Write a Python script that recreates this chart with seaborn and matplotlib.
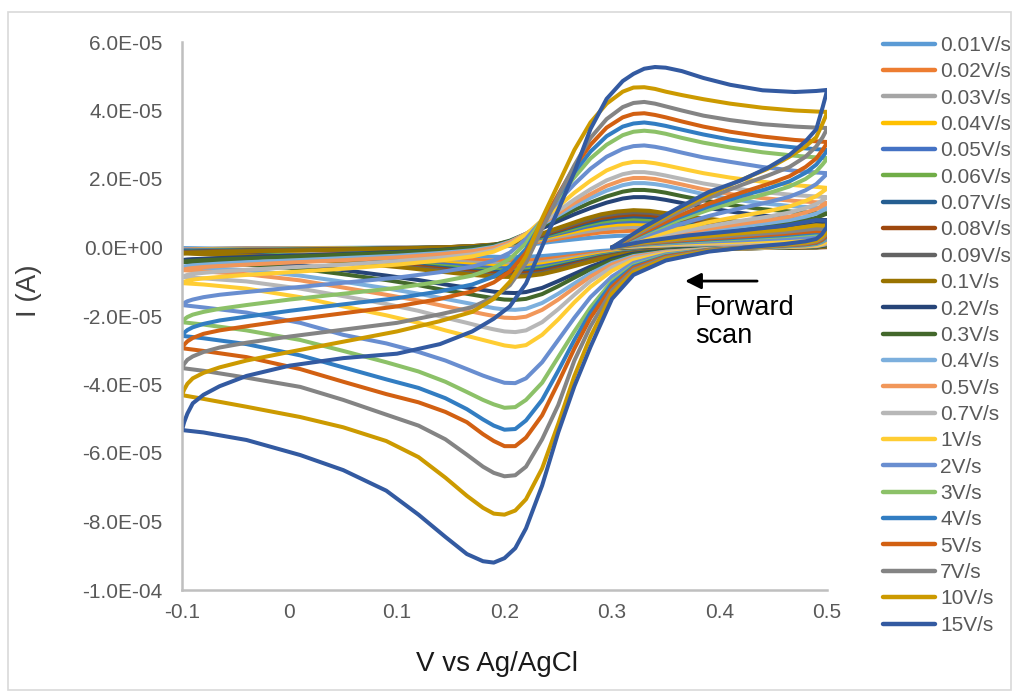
import matplotlib
matplotlib.use("Agg")
import matplotlib.pyplot as plt
import seaborn as sns
import pandas as pd
from matplotlib.ticker import FuncFormatter, MultipleLocator
from matplotlib.patches import Rectangle

# ---------------- data (currents in units of 1e-5 A) ----------------
RATES = ["0.01V/s", "0.02V/s", "0.03V/s", "0.04V/s", "0.05V/s", "0.06V/s",
         "0.07V/s", "0.08V/s", "0.09V/s", "0.1V/s", "0.2V/s", "0.3V/s",
         "0.4V/s", "0.5V/s", "0.7V/s", "1V/s", "2V/s", "3V/s", "4V/s",
         "5V/s", "7V/s", "10V/s", "15V/s"]
COLORS = ["#5B9BD5", "#ED7D31", "#A5A5A5", "#FFC000", "#4472C4", "#70AD47",
          "#255E91", "#9E480E", "#636363", "#997300", "#264478", "#43682B",
          "#7CAFDD", "#F1975A", "#B7B7B7", "#FFCD33", "#698ED0", "#8CC168",
          "#327DC2", "#D26012", "#848484", "#CC9A00", "#335AA1"]

# Potential samples along the scan: start 0.3 -> 0.5 -> -0.1 -> 0.5 -> 0.3
# coarse sampling (slow scans, small currents)
V_INIT_C = [0.30, 0.36, 0.42, 0.47, 0.50]
V_CATH_C = [0.50, 0.49, 0.47, 0.43, 0.38, 0.34, 0.31, 0.29, 0.27, 0.25, 0.235,
            0.22, 0.205, 0.19, 0.17, 0.145, 0.11, 0.07, 0.02, -0.04, -0.10]
V_ANOD_C = [-0.10, -0.09, -0.07, -0.04, 0.0, 0.05, 0.10, 0.14, 0.17, 0.195,
            0.215, 0.23, 0.245, 0.26, 0.275, 0.29, 0.305, 0.32, 0.335, 0.355,
            0.38, 0.41, 0.45, 0.50]
V_END_C = [0.50, 0.495, 0.485, 0.46, 0.42, 0.37, 0.33, 0.30]
# fine sampling (faster scans, large currents)
V_INIT_F = [0.30, 0.33, 0.37, 0.42, 0.46, 0.49, 0.50]
V_CATH_F = [0.50, 0.495, 0.49, 0.48, 0.46, 0.43, 0.39, 0.35, 0.32, 0.30, 0.28,
            0.265, 0.25, 0.235, 0.22, 0.21, 0.20, 0.19, 0.18, 0.165, 0.145,
            0.12, 0.09, 0.05, 0.01, -0.04, -0.08, -0.10]
V_ANOD_F = [-0.10, -0.098, -0.095, -0.09, -0.08, -0.065, -0.04, 0.0, 0.05,
            0.10, 0.14, 0.17, 0.19, 0.205, 0.22, 0.235, 0.25, 0.265, 0.28,
            0.295, 0.31, 0.32, 0.33, 0.34, 0.35, 0.365, 0.385, 0.41, 0.44,
            0.47, 0.49, 0.50]
V_END_F = [0.50, 0.499, 0.496, 0.49, 0.48, 0.465, 0.445, 0.42, 0.39, 0.36,
           0.33, 0.30]

i_0p01 = [0, 0.01, 0.02, 0.02, 0.03,
          0.01, 0.0, 0.0, -0.01, -0.01, -0.03, -0.06, -0.1, -0.16, -0.21, -0.25, -0.27, -0.28, -0.27, -0.25, -0.23, -0.19, -0.15, -0.11, -0.06, -0.03,
          -0.03, -0.03, -0.03, -0.02, -0.02, -0.01, 0.0, 0.0, 0.01, 0.03, 0.06, 0.11, 0.17, 0.22, 0.27, 0.31, 0.34, 0.35, 0.34, 0.31, 0.28, 0.25, 0.23, 0.22,
          0.22, 0.2, 0.18, 0.15, 0.12, 0.08, 0.04, 0.0]
i_0p02 = [0, 0.01, 0.02, 0.03, 0.04,
          0.01, 0.0, 0.0, -0.01, -0.02, -0.04, -0.09, -0.15, -0.22, -0.3, -0.35, -0.38, -0.39, -0.38, -0.36, -0.32, -0.27, -0.21, -0.15, -0.09, -0.05,
          -0.05, -0.05, -0.04, -0.03, -0.03, -0.02, -0.01, 0.0, 0.02, 0.05, 0.09, 0.16, 0.23, 0.31, 0.38, 0.44, 0.47, 0.49, 0.48, 0.44, 0.39, 0.35, 0.32, 0.3,
          0.3, 0.28, 0.26, 0.21, 0.16, 0.11, 0.05, 0.0]
i_0p03 = [0, 0.02, 0.03, 0.04, 0.04,
          0.02, 0.01, 0.0, -0.01, -0.02, -0.05, -0.11, -0.18, -0.27, -0.36, -0.43, -0.47, -0.48, -0.47, -0.44, -0.39, -0.33, -0.26, -0.19, -0.12, -0.06,
          -0.06, -0.06, -0.05, -0.04, -0.03, -0.02, -0.01, 0.0, 0.02, 0.06, 0.11, 0.19, 0.29, 0.37, 0.46, 0.53, 0.58, 0.6, 0.59, 0.54, 0.48, 0.42, 0.39, 0.36,
          0.36, 0.34, 0.31, 0.26, 0.2, 0.13, 0.07, 0.0]
i_0p04 = [0, 0.02, 0.03, 0.04, 0.05,
          0.02, 0.01, 0.0, -0.01, -0.03, -0.06, -0.12, -0.2, -0.31, -0.42, -0.49, -0.54, -0.55, -0.54, -0.5, -0.45, -0.38, -0.3, -0.22, -0.14, -0.08,
          -0.08, -0.07, -0.06, -0.05, -0.04, -0.03, -0.02, 0.0, 0.03, 0.06, 0.13, 0.22, 0.33, 0.43, 0.53, 0.62, 0.67, 0.69, 0.68, 0.62, 0.55, 0.49, 0.44, 0.41,
          0.41, 0.39, 0.36, 0.3, 0.23, 0.15, 0.08, 0.0]
i_0p05 = [0, 0.02, 0.03, 0.04, 0.05,
          0.02, 0.01, 0.0, -0.01, -0.03, -0.07, -0.14, -0.23, -0.35, -0.47, -0.55, -0.6, -0.61, -0.6, -0.56, -0.5, -0.42, -0.33, -0.25, -0.16, -0.09,
          -0.09, -0.08, -0.07, -0.06, -0.05, -0.04, -0.02, 0.0, 0.03, 0.07, 0.14, 0.25, 0.37, 0.48, 0.6, 0.69, 0.75, 0.77, 0.76, 0.7, 0.62, 0.55, 0.5, 0.46,
          0.46, 0.44, 0.4, 0.33, 0.26, 0.17, 0.08, 0.0]
i_0p06 = [0, 0.02, 0.04, 0.05, 0.06,
          0.02, 0.01, 0.0, -0.02, -0.03, -0.08, -0.16, -0.25, -0.38, -0.51, -0.6, -0.65, -0.67, -0.66, -0.62, -0.55, -0.46, -0.37, -0.27, -0.18, -0.11,
          -0.11, -0.1, -0.09, -0.08, -0.06, -0.04, -0.02, 0.0, 0.03, 0.08, 0.15, 0.27, 0.4, 0.52, 0.65, 0.75, 0.81, 0.84, 0.82, 0.75, 0.67, 0.59, 0.54, 0.5,
          0.5, 0.47, 0.43, 0.36, 0.28, 0.18, 0.09, 0.0]
i_0p07 = [0, 0.02, 0.04, 0.05, 0.06,
          0.02, 0.01, 0.0, -0.02, -0.03, -0.08, -0.17, -0.27, -0.41, -0.55, -0.65, -0.7, -0.72, -0.71, -0.67, -0.6, -0.5, -0.4, -0.3, -0.2, -0.12,
          -0.12, -0.11, -0.1, -0.08, -0.07, -0.05, -0.02, 0.0, 0.03, 0.08, 0.17, 0.29, 0.43, 0.57, 0.7, 0.81, 0.88, 0.91, 0.89, 0.82, 0.73, 0.64, 0.58, 0.54,
          0.54, 0.51, 0.47, 0.39, 0.3, 0.2, 0.1, 0.0]
i_0p08 = [0, 0.03, 0.04, 0.06, 0.07,
          0.03, 0.01, 0.0, -0.02, -0.04, -0.09, -0.18, -0.29, -0.44, -0.59, -0.7, -0.75, -0.77, -0.76, -0.71, -0.64, -0.53, -0.42, -0.32, -0.22, -0.14,
          -0.14, -0.13, -0.11, -0.09, -0.07, -0.05, -0.03, 0.0, 0.04, 0.09, 0.18, 0.31, 0.46, 0.6, 0.75, 0.86, 0.93, 0.97, 0.95, 0.87, 0.77, 0.69, 0.62, 0.58,
          0.58, 0.55, 0.5, 0.41, 0.32, 0.21, 0.1, 0.0]
i_0p09 = [0, 0.03, 0.05, 0.06, 0.07,
          0.03, 0.01, 0.0, -0.02, -0.04, -0.09, -0.19, -0.31, -0.47, -0.63, -0.74, -0.8, -0.82, -0.81, -0.76, -0.68, -0.57, -0.45, -0.34, -0.23, -0.15,
          -0.15, -0.14, -0.12, -0.1, -0.08, -0.06, -0.03, 0.0, 0.04, 0.09, 0.19, 0.33, 0.49, 0.64, 0.79, 0.92, 0.99, 1.03, 1.01, 0.93, 0.82, 0.73, 0.66, 0.62,
          0.62, 0.58, 0.54, 0.44, 0.34, 0.23, 0.11, 0.0]
i_0p1 = [0, 0.03, 0.05, 0.07, 0.08,
         0.03, 0.01, 0.0, -0.02, -0.04, -0.1, -0.2, -0.33, -0.5, -0.67, -0.78, -0.84, -0.86, -0.85, -0.8, -0.72, -0.6, -0.48, -0.36, -0.25, -0.17,
         -0.17, -0.15, -0.13, -0.11, -0.09, -0.06, -0.03, 0.0, 0.04, 0.1, 0.2, 0.35, 0.52, 0.68, 0.84, 0.97, 1.05, 1.09, 1.07, 0.98, 0.87, 0.77, 0.7, 0.66,
         0.66, 0.62, 0.57, 0.47, 0.36, 0.24, 0.12, 0.0]

i_0p2 = [0.0, 0.03, 0.05, 0.07, 0.09, 0.11, 0.1,
         0.07, 0.04, 0.03, 0.02, 0.0, -0.01, -0.03, -0.09, -0.18, -0.33, -0.56, -0.77, -0.98, -1.18, -1.3, -1.33, -1.32, -1.29, -1.24, -1.17, -1.08, -0.95, -0.82, -0.66, -0.52, -0.43, -0.39, -0.37,
         -0.37, -0.36, -0.35, -0.34, -0.33, -0.31, -0.28, -0.24, -0.19, -0.13, -0.07, 0.0, 0.07, 0.18, 0.36, 0.56, 0.77, 0.97, 1.15, 1.31, 1.43, 1.47, 1.47, 1.44, 1.39, 1.3, 1.18, 1.05, 0.93, 0.85, 0.81, 0.8,
         0.8, 0.78, 0.75, 0.69, 0.63, 0.56, 0.49, 0.42, 0.33, 0.24, 0.12, 0.0]
i_0p3 = [0.0, 0.03, 0.06, 0.09, 0.11, 0.13, 0.12,
         0.08, 0.05, 0.03, 0.02, 0.0, -0.01, -0.04, -0.1, -0.21, -0.38, -0.64, -0.88, -1.13, -1.36, -1.5, -1.53, -1.52, -1.48, -1.43, -1.35, -1.25, -1.1, -0.95, -0.78, -0.62, -0.5, -0.45, -0.42,
         -0.42, -0.41, -0.4, -0.39, -0.37, -0.35, -0.32, -0.27, -0.21, -0.15, -0.08, -0.01, 0.07, 0.2, 0.4, 0.63, 0.87, 1.1, 1.31, 1.49, 1.63, 1.68, 1.68, 1.65, 1.6, 1.5, 1.38, 1.24, 1.12, 1.04, 1.01, 1.0,
         1.0, 0.98, 0.94, 0.87, 0.79, 0.7, 0.62, 0.53, 0.42, 0.3, 0.15, 0.0]
i_0p4 = [0.0, 0.04, 0.08, 0.11, 0.13, 0.16, 0.15,
         0.1, 0.07, 0.04, 0.03, 0.01, -0.01, -0.04, -0.12, -0.25, -0.45, -0.76, -1.05, -1.35, -1.62, -1.79, -1.82, -1.81, -1.77, -1.71, -1.62, -1.5, -1.35, -1.19, -1.0, -0.82, -0.66, -0.6, -0.57,
         -0.57, -0.55, -0.54, -0.52, -0.5, -0.47, -0.43, -0.38, -0.31, -0.24, -0.16, -0.08, 0.02, 0.17, 0.4, 0.67, 0.94, 1.21, 1.45, 1.66, 1.82, 1.88, 1.88, 1.85, 1.8, 1.7, 1.56, 1.42, 1.29, 1.2, 1.17, 1.15,
         1.15, 1.12, 1.08, 0.99, 0.9, 0.8, 0.71, 0.61, 0.49, 0.34, 0.17, 0.0]
i_0p5 = [0.0, 0.04, 0.09, 0.12, 0.15, 0.18, 0.17,
         0.12, 0.08, 0.05, 0.03, 0.01, -0.01, -0.05, -0.13, -0.28, -0.5, -0.85, -1.18, -1.52, -1.82, -2.02, -2.06, -2.05, -2.0, -1.94, -1.84, -1.72, -1.55, -1.38, -1.17, -0.96, -0.78, -0.7, -0.66,
         -0.66, -0.64, -0.62, -0.6, -0.57, -0.54, -0.5, -0.44, -0.37, -0.29, -0.2, -0.11, -0.01, 0.15, 0.4, 0.7, 1.0, 1.3, 1.56, 1.8, 1.97, 2.03, 2.03, 2.0, 1.94, 1.84, 1.7, 1.56, 1.44, 1.36, 1.32, 1.3,
         1.3, 1.27, 1.22, 1.12, 1.02, 0.9, 0.8, 0.69, 0.55, 0.39, 0.2, 0.0]
i_0p7 = [0.0, 0.05, 0.1, 0.14, 0.17, 0.2, 0.19,
         0.14, 0.09, 0.06, 0.04, 0.02, -0.01, -0.05, -0.15, -0.32, -0.58, -0.98, -1.38, -1.8, -2.18, -2.42, -2.47, -2.45, -2.39, -2.32, -2.2, -2.05, -1.85, -1.65, -1.42, -1.2, -0.99, -0.9, -0.86,
         -0.86, -0.83, -0.8, -0.77, -0.74, -0.7, -0.65, -0.58, -0.5, -0.4, -0.3, -0.2, -0.08, 0.1, 0.38, 0.72, 1.07, 1.4, 1.7, 1.96, 2.14, 2.2, 2.2, 2.16, 2.1, 2.0, 1.87, 1.74, 1.62, 1.53, 1.49, 1.47,
         1.47, 1.44, 1.38, 1.27, 1.15, 1.02, 0.9, 0.78, 0.62, 0.44, 0.22, 0.0]
i_1 = [0.0, 0.06, 0.12, 0.17, 0.21, 0.25, 0.24,
       0.17, 0.1, 0.07, 0.04, 0.02, -0.01, -0.06, -0.17, -0.37, -0.68, -1.15, -1.6, -2.1, -2.55, -2.85, -2.9, -2.86, -2.78, -2.7, -2.58, -2.42, -2.2, -1.98, -1.72, -1.45, -1.2, -1.08, -1.04,
       -1.04, -1.0, -0.97, -0.94, -0.9, -0.86, -0.8, -0.72, -0.62, -0.5, -0.38, -0.26, -0.12, 0.08, 0.38, 0.8, 1.2, 1.6, 1.95, 2.25, 2.44, 2.5, 2.5, 2.46, 2.4, 2.3, 2.17, 2.04, 1.92, 1.82, 1.77, 1.74,
       1.74, 1.7, 1.63, 1.5, 1.36, 1.2, 1.06, 0.92, 0.74, 0.52, 0.27, 0.0]
i_2 = [0.0, 0.08, 0.15, 0.21, 0.27, 0.32, 0.3,
       0.24, 0.15, 0.1, 0.06, 0.03, 0.0, -0.06, -0.2, -0.45, -0.85, -1.45, -2.05, -2.7, -3.35, -3.82, -3.96, -3.95, -3.85, -3.74, -3.55, -3.3, -3.05, -2.8, -2.55, -2.2, -1.9, -1.75, -1.68,
       -1.68, -1.62, -1.57, -1.52, -1.45, -1.38, -1.3, -1.18, -1.03, -0.88, -0.72, -0.56, -0.38, -0.15, 0.25, 0.8, 1.35, 1.85, 2.3, 2.65, 2.88, 2.96, 2.98, 2.94, 2.88, 2.77, 2.63, 2.5, 2.35, 2.24, 2.19, 2.17,
       2.17, 2.12, 2.03, 1.85, 1.67, 1.48, 1.32, 1.15, 0.92, 0.65, 0.33, 0.0]
i_3 = [0.0, 0.1, 0.18, 0.26, 0.33, 0.4, 0.38,
       0.3, 0.18, 0.12, 0.08, 0.04, 0.0, -0.07, -0.23, -0.52, -0.98, -1.75, -2.45, -3.2, -3.95, -4.45, -4.66, -4.68, -4.58, -4.45, -4.22, -3.92, -3.62, -3.35, -3.02, -2.7, -2.42, -2.25, -2.18,
       -2.18, -2.1, -2.03, -1.96, -1.88, -1.79, -1.68, -1.52, -1.35, -1.18, -1.0, -0.82, -0.6, -0.33, 0.12, 0.8, 1.45, 2.05, 2.6, 3.0, 3.28, 3.38, 3.41, 3.38, 3.32, 3.2, 3.06, 2.92, 2.78, 2.68, 2.63, 2.61,
       2.61, 2.55, 2.43, 2.22, 2.0, 1.78, 1.58, 1.38, 1.1, 0.78, 0.4, 0.0]
i_4 = [0.0, 0.11, 0.2, 0.29, 0.36, 0.44, 0.42,
       0.32, 0.2, 0.13, 0.09, 0.05, 0.0, -0.07, -0.25, -0.56, -1.05, -1.9, -2.7, -3.6, -4.45, -5.05, -5.3, -5.32, -5.2, -5.02, -4.72, -4.4, -4.1, -3.85, -3.5, -3.15, -2.82, -2.65, -2.58,
       -2.58, -2.49, -2.41, -2.33, -2.23, -2.13, -2.02, -1.85, -1.66, -1.48, -1.28, -1.08, -0.85, -0.55, -0.05, 0.75, 1.5, 2.2, 2.8, 3.25, 3.53, 3.62, 3.65, 3.61, 3.55, 3.44, 3.3, 3.15, 3.02, 2.92, 2.87, 2.85,
       2.85, 2.78, 2.65, 2.42, 2.18, 1.93, 1.72, 1.5, 1.2, 0.85, 0.43, 0.0]
i_5 = [0.0, 0.12, 0.22, 0.32, 0.4, 0.48, 0.46,
       0.35, 0.22, 0.15, 0.1, 0.06, 0.0, -0.07, -0.27, -0.6, -1.15, -2.05, -2.95, -3.95, -4.9, -5.55, -5.8, -5.8, -5.65, -5.45, -5.1, -4.8, -4.52, -4.28, -3.92, -3.55, -3.2, -3.02, -2.94,
       -2.94, -2.84, -2.74, -2.64, -2.52, -2.42, -2.3, -2.12, -1.92, -1.72, -1.5, -1.28, -1.02, -0.7, -0.15, 0.7, 1.55, 2.35, 3.0, 3.5, 3.8, 3.9, 3.92, 3.87, 3.8, 3.68, 3.53, 3.38, 3.24, 3.14, 3.1, 3.08,
       3.08, 3.0, 2.85, 2.6, 2.35, 2.08, 1.85, 1.6, 1.28, 0.9, 0.45, 0.0]
i_7 = [0.0, 0.13, 0.25, 0.36, 0.45, 0.55, 0.53,
       0.4, 0.26, 0.18, 0.12, 0.07, 0.0, -0.08, -0.3, -0.65, -1.25, -2.3, -3.3, -4.6, -5.6, -6.4, -6.65, -6.68, -6.58, -6.4, -6.05, -5.6, -5.2, -4.88, -4.45, -4.07, -3.8, -3.6, -3.52,
       -3.52, -3.4, -3.28, -3.18, -3.05, -2.92, -2.78, -2.6, -2.4, -2.2, -1.95, -1.74, -1.45, -1.1, -0.45, 0.55, 1.5, 2.4, 3.2, 3.75, 4.1, 4.22, 4.25, 4.2, 4.12, 4.0, 3.85, 3.72, 3.6, 3.53, 3.5, 3.49,
       3.49, 3.4, 3.22, 2.95, 2.65, 2.35, 2.1, 1.82, 1.45, 1.0, 0.5, 0.0]
i_10 = [0.0, 0.15, 0.28, 0.42, 0.52, 0.65, 0.63,
        0.45, 0.3, 0.2, 0.14, 0.08, 0.01, -0.1, -0.33, -0.72, -1.35, -2.6, -3.75, -5.15, -6.45, -7.35, -7.68, -7.8, -7.77, -7.6, -7.25, -6.72, -6.12, -5.65, -5.25, -4.95, -4.65, -4.42, -4.31,
        -4.31, -4.15, -3.98, -3.82, -3.66, -3.5, -3.3, -3.05, -2.75, -2.45, -2.15, -1.88, -1.5, -1.0, -0.25, 0.85, 1.85, 2.85, 3.65, 4.2, 4.55, 4.67, 4.68, 4.63, 4.55, 4.45, 4.33, 4.2, 4.08, 4.0, 3.97, 3.96,
        3.96, 3.85, 3.63, 3.22, 2.95, 2.65, 2.3, 1.97, 1.55, 1.08, 0.55, 0.0]
i_15 = [0.0, 0.18, 0.35, 0.5, 0.63, 0.8, 0.78,
        0.6, 0.38, 0.25, 0.18, 0.1, 0.02, -0.12, -0.38, -0.8, -1.5, -2.9, -4.05, -5.4, -6.95, -8.2, -8.78, -9.07, -9.2, -9.16, -8.95, -8.45, -7.8, -7.1, -6.5, -6.06, -5.62, -5.4, -5.33,
        -5.33, -5.1, -4.85, -4.55, -4.3, -4.05, -3.75, -3.45, -3.23, -3.1, -2.82, -2.45, -2.08, -1.72, -1.05, 0.03, 1.1, 2.2, 3.46, 4.34, 4.86, 5.07, 5.22, 5.27, 5.25, 5.15, 4.95, 4.75, 4.59, 4.54, 4.57, 4.6,
        4.6, 4.45, 4.1, 3.45, 3.1, 2.7, 2.33, 1.96, 1.62, 1.13, 0.6, 0.0]

CURRENTS = [i_0p01, i_0p02, i_0p03, i_0p04, i_0p05, i_0p06, i_0p07, i_0p08,
            i_0p09, i_0p1, i_0p2, i_0p3, i_0p4, i_0p5, i_0p7, i_1, i_2, i_3,
            i_4, i_5, i_7, i_10, i_15]

V_PATH_C = V_INIT_C + V_CATH_C + V_ANOD_C + V_END_C
V_PATH_F = V_INIT_F + V_CATH_F + V_ANOD_F + V_END_F

rows = []
for rate, cur in zip(RATES, CURRENTS):
    if len(cur) == len(V_PATH_F):
        vpath = V_PATH_F
    elif len(cur) == len(V_PATH_C):
        vpath = V_PATH_C
    else:
        raise ValueError(f"{rate}: {len(cur)} values")
    for k, (v, i) in enumerate(zip(vpath, cur)):
        rows.append({"rate": rate, "step": k, "V": v, "I": i * 1e-5})
df = pd.DataFrame(rows)

# ---------------- figure ----------------
sns.set_style("white")
plt.rcParams["font.family"] = ["Liberation Sans", "DejaVu Sans"]

W, H = 1019, 697
fig = plt.figure(figsize=(W / 100, H / 100), dpi=100)
ax = fig.add_axes([182 / W, 1 - 590 / H, (827 - 182) / W, (590 - 42) / H])

sns.lineplot(data=df, x="V", y="I", hue="rate", hue_order=RATES,
             palette=COLORS, sort=False, estimator=None, errorbar=None,
             linewidth=2.9, legend=False, ax=ax)
for ln in ax.get_lines():
    ln.set_solid_joinstyle("round")
    ln.set_solid_capstyle("round")

ax.set_xlim(-0.1, 0.5)
ax.set_ylim(-1.0e-4, 6.0e-5)
ax.xaxis.set_major_locator(MultipleLocator(0.1))
ax.yaxis.set_major_locator(MultipleLocator(2e-5))


def yfmt(v, _):
    if abs(v) < 1e-12:
        v = 0.0
    return f"{v:.1E}"


def xfmt(v, _):
    v = round(v, 1)
    if abs(v) < 1e-9:
        return "0"
    return f"{v:g}"


ax.yaxis.set_major_formatter(FuncFormatter(yfmt))
ax.xaxis.set_major_formatter(FuncFormatter(xfmt))
ax.tick_params(axis="both", length=0, colors="#595959", labelsize=15)
ax.tick_params(axis="y", pad=14)
ax.tick_params(axis="x", pad=9)

for side in ("top", "right"):
    ax.spines[side].set_visible(False)
for side in ("left", "bottom"):
    ax.spines[side].set_color("#BFBFBF")
    ax.spines[side].set_linewidth(1.8)

ax.set_xlabel("V vs Ag/AgCl", fontsize=20, color="#1a1a1a")
ax.set_ylabel("I (A)", fontsize=20, color="#404040")
ax.xaxis.set_label_coords(0.488, -0.112)
ax.yaxis.set_label_coords(-0.217, 0.547)

# forward scan arrow and note
ax.annotate("", xy=(0.368, -0.98e-5), xytext=(0.435, -0.98e-5),
            arrowprops=dict(arrowstyle="-|>", color="black", lw=2.0,
                            mutation_scale=24, shrinkA=0, shrinkB=0))
ax.text(0.377, -1.40e-5, "Forward\nscan", fontsize=19.5, color="black",
        ha="left", va="top", linespacing=1.1)

# legend
handles = ax.get_lines()[:len(RATES)]
leg = ax.legend(handles, RATES, loc="upper left",
                bbox_to_anchor=(883 / W, 1 - 36 / H),
                bbox_transform=fig.transFigure, frameon=False,
                fontsize=15, labelcolor="#595959", handlelength=2.5,
                handletextpad=0.25, labelspacing=0.353, borderpad=0,
                borderaxespad=0)
for lh in leg.get_lines():
    lh.set_linewidth(3.2)

# chart-area border
fig.patches.append(Rectangle((8 / W, 7 / H), (1011 - 8) / W, (690 - 12) / H,
                             transform=fig.transFigure, fill=False,
                             edgecolor="#D9D9D9", linewidth=1.2))

fig.savefig("out.png", dpi=100, facecolor="white")
